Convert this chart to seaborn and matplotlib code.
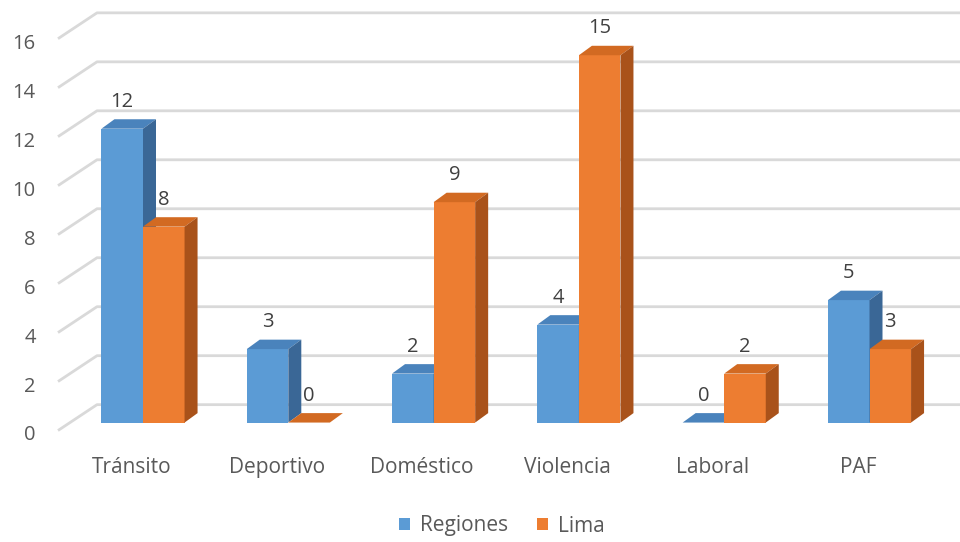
import matplotlib
matplotlib.use("Agg")
import matplotlib.pyplot as plt
from matplotlib.patches import Polygon, Patch
import seaborn as sns
import pandas as pd

# ---- data -------------------------------------------------------------
categories = ["Tránsito", "Deportivo", "Doméstico", "Violencia", "Laboral", "PAF"]
series = ["Regiones", "Lima"]
regiones = [12, 3, 2, 4, 0, 5]
lima = [8, 0, 9, 15, 2, 3]
y_ticks = [0, 2, 4, 6, 8, 10, 12, 14, 16]

# ---- styling ----------------------------------------------------------
sns.set_theme(style="white")
plt.rcParams["font.family"] = ["Open Sans", "DejaVu Sans"]

front_colors = {"Regiones": "#5B9BD5", "Lima": "#ED7D31"}
top_colors = {"Regiones": "#4A83BC", "Lima": "#D26A22"}
side_colors = {"Regiones": "#3A6796", "Lima": "#A9521A"}
grid_color = "#D9D9D9"
label_color = "#595959"
value_color = "#404040"

W, H = 960, 542
fig = plt.figure(figsize=(W / 100, H / 100), dpi=100)

# pixel scales of the 3D frame
px_per_cat = 145.3      # horizontal distance between category groups
px_per_unit = 24.63     # vertical pixels per value unit
cat0_px = 143.0         # pixel x of first category centre (bar plane)
front_px = 8.0          # floor front edge sits this far below the bar plane
back_px = 18.0          # back wall sits this far above the bar plane
depth_dx, depth_dy = 13.0, 9.5   # bar depth projection in pixels

left_px, floor_px = 58.0, 433.0
ax = fig.add_axes([left_px / W, (H - floor_px) / H,
                   (W - left_px) / W, floor_px / H])


def dx(p):
    return p / px_per_cat


def dy(p):
    return p / px_per_unit


df = pd.DataFrame({
    "categoria": categories * 2,
    "serie": [series[0]] * len(categories) + [series[1]] * len(categories),
    "valor": regiones + lima,
})

sns.barplot(data=df, x="categoria", y="valor", hue="serie",
            order=categories, hue_order=series, palette=front_colors,
            width=0.572, gap=0, saturation=1, legend=False,
            edgecolor="none", linewidth=0, ax=ax)

x_lo = (left_px - cat0_px) / px_per_cat
x_hi = (W - cat0_px) / px_per_cat
y_lo = -dy(front_px)
y_hi = y_lo + dy(floor_px)
ax.set_xlim(x_lo, x_hi)
ax.set_ylim(y_lo, y_hi)

# back wall gridlines with the diagonal floor/side-wall segments
back_left = (97.0 - cat0_px) / px_per_cat
for v in y_ticks:
    ax.plot([x_lo, back_left, x_hi],
            [v - dy(front_px), v + dy(back_px), v + dy(back_px)],
            color=grid_color, lw=2, zorder=0.5, solid_capstyle="butt",
            clip_on=False)

# extrude the seaborn bars into 3D boxes and label their values
for j, (name, container) in enumerate(zip(series, ax.containers)):
    for bar, val in zip(container, container.datavalues):
        x0 = bar.get_x()
        w = bar.get_width()
        h = bar.get_height()
        bar.set_zorder(2 + j)
        ddx, ddy = dx(depth_dx), dy(depth_dy)
        top = Polygon([(x0, h), (x0 + w, h), (x0 + w + ddx, h + ddy),
                       (x0 + ddx, h + ddy)], closed=True,
                      facecolor=top_colors[name], edgecolor="none",
                      zorder=2 + j)
        side = Polygon([(x0 + w, 0), (x0 + w + ddx, ddy),
                        (x0 + w + ddx, h + ddy), (x0 + w, h)], closed=True,
                       facecolor=side_colors[name], edgecolor="none",
                       zorder=2 + j)
        ax.add_patch(top)
        ax.add_patch(side)
        ax.text(x0 + w / 2, h + dy(27), f"{val:g}", ha="center",
                va="center", fontsize=14.5, color=value_color, zorder=5)

# axis ticks sit on the floor's front edge
ax.set_yticks([v - dy(front_px + 2.5) for v in y_ticks])
ax.set_yticklabels([str(v) for v in y_ticks])
ax.set_xticks([i - dx(11.5) for i in range(len(categories))])
ax.set_xticklabels(categories)
ax.tick_params(axis="y", length=0, pad=16, labelsize=14.5,
               labelcolor=label_color)
ax.tick_params(axis="x", length=0, pad=17, labelsize=15,
               labelcolor=label_color)
ax.set_xlabel("")
ax.set_ylabel("")
for s in ax.spines.values():
    s.set_visible(False)
ax.set_facecolor("none")

handles = [Patch(facecolor=front_colors[s], edgecolor="none", label=s)
           for s in series]
fig.legend(handles=handles, loc="center", ncol=2, frameon=False,
           bbox_to_anchor=(502 / W, 1 - 526 / H), fontsize=15,
           labelcolor=label_color, handlelength=0.5, handleheight=0.5,
           handletextpad=0.5, columnspacing=1.4)

fig.savefig("out.png", dpi=100, facecolor="white")
